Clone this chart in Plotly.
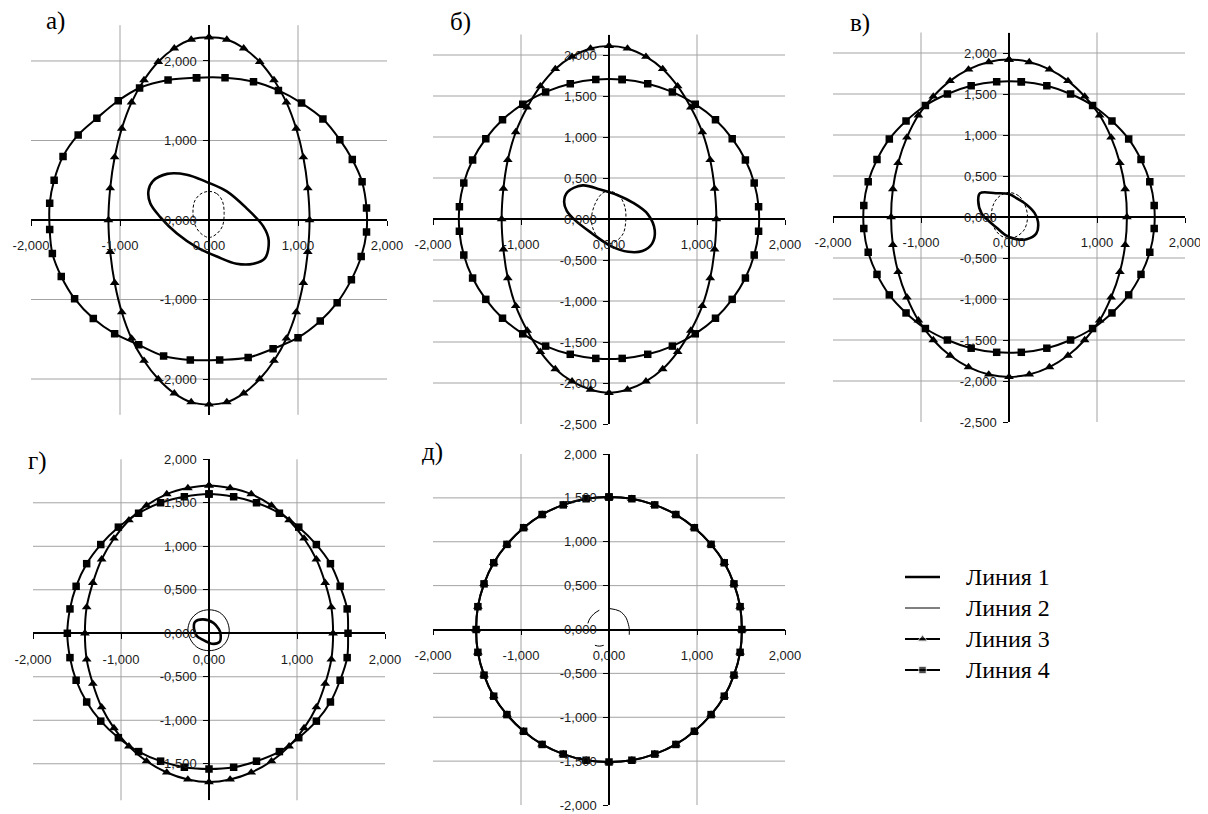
import plotly.graph_objects as go

# The page places the figure 8 px from the window's top-left corner.
OFF = 8
W, H = 1200, 806

# ---------------- tick values and labels ----------------
X_TICKS = [-2, -1, 0, 1, 2]
X_TICK_TEXT = ["-2,000", "-1,000", "0,000", "1,000", "2,000"]

A_Y_TICKS = [2, 1, 0, -1, -2]
A_Y_TICK_TEXT = ["2,000", "1,000", "0,000", "-1,000", "-2,000"]
B_Y_TICKS = [2, 1.5, 1, 0.5, 0, -0.5, -1, -1.5, -2, -2.5]
B_Y_TICK_TEXT = ["2,000", "1,500", "1,000", "0,500", "0,000", "-0,500", "-1,000", "-1,500", "-2,000", "-2,500"]
C_Y_TICKS = [2, 1.5, 1, 0.5, 0, -0.5, -1, -1.5, -2, -2.5]
C_Y_TICK_TEXT = ["2,000", "1,500", "1,000", "0,500", "0,000", "-0,500", "-1,000", "-1,500", "-2,000", "-2,500"]
D_Y_TICKS = [2, 1.5, 1, 0.5, 0, -0.5, -1, -1.5]
D_Y_TICK_TEXT = ["2,000", "1,500", "1,000", "0,500", "0,000", "-0,500", "-1,000", "-1,500"]
E_Y_TICKS = [2, 1.5, 1, 0.5, 0, -0.5, -1, -1.5, -2]
E_Y_TICK_TEXT = ["2,000", "1,500", "1,000", "0,500", "0,000", "-0,500", "-1,000", "-1,500", "-2,000"]

PANEL_LABELS = ["а)", "б)", "в)", "г)", "д)"]
SERIES_NAMES = ["Линия 1", "Линия 2", "Линия 3", "Линия 4"]

# ---------------- panel а ----------------
A1_X = [-0.68, -0.63, -0.47, -0.25, -0.03, 0.20, 0.42, 0.61, 0.67, 0.63, 0.50, 0.31, 0.09, -0.14, -0.36, -0.55, -0.66, -0.68]
A1_Y = [0.37, 0.49, 0.58, 0.57, 0.48, 0.36, 0.15, -0.08, -0.25, -0.48, -0.55, -0.55, -0.46, -0.34, -0.17, 0.04, 0.21, 0.37]
A2_X = [0.00, 0.09, 0.15, 0.17, 0.15, 0.08, 0.00, -0.08, -0.15, -0.18, -0.16, -0.09, 0.00]
A2_Y = [0.36, 0.33, 0.24, 0.08, -0.08, -0.18, -0.22, -0.18, -0.08, 0.08, 0.24, 0.33, 0.36]
A3_X = [0.00, 0.20, 0.39, 0.57, 0.73, 0.87, 0.98, 1.06, 1.11, 1.13, 1.11, 1.06, 0.98, 0.87, 0.73, 0.57, 0.39, 0.20,
        0.00, -0.20, -0.39, -0.57, -0.73, -0.87, -0.98, -1.06, -1.11, -1.13, -1.11, -1.06, -0.98, -0.87, -0.73, -0.57, -0.39, -0.20, 0.00]
A3_Y = [2.30, 2.27, 2.16, 1.99, 1.76, 1.48, 1.15, 0.79, 0.40, 0.00, -0.40, -0.79, -1.16, -1.49, -1.77, -2.00, -2.18, -2.29,
        -2.32, -2.29, -2.18, -2.00, -1.77, -1.49, -1.16, -0.79, -0.40, 0.00, 0.40, 0.79, 1.15, 1.48, 1.76, 1.99, 2.16, 2.27, 2.30]
A4_X = [-0.14, 0.18, 0.50, 0.78, 1.04, 1.28, 1.47, 1.61, 1.72, 1.77, 1.77, 1.71, 1.60, 1.44, 1.25, 1.00, 0.72, 0.44,
        0.12, -0.21, -0.51, -0.79, -1.06, -1.30, -1.51, -1.66, -1.76, -1.79, -1.79, -1.74, -1.64, -1.47, -1.26, -1.02, -0.78, -0.46, -0.14]
A4_Y = [1.79, 1.79, 1.74, 1.63, 1.47, 1.27, 1.01, 0.76, 0.48, 0.15, -0.15, -0.46, -0.75, -1.04, -1.27, -1.48, -1.62, -1.73,
        -1.76, -1.76, -1.71, -1.57, -1.43, -1.24, -0.99, -0.71, -0.42, -0.12, 0.21, 0.50, 0.80, 1.07, 1.28, 1.50, 1.66, 1.76, 1.79]

# ---------------- panel б ----------------
B1_X = [-0.51, -0.47, -0.30, -0.10, 0.10, 0.27, 0.44, 0.52, 0.49, 0.38, 0.22, 0.02, -0.20, -0.38, -0.48, -0.51]
B1_Y = [0.21, 0.33, 0.41, 0.36, 0.29, 0.20, 0.06, -0.14, -0.30, -0.39, -0.40, -0.33, -0.17, -0.02, 0.10, 0.21]
B2_X = [0.00, 0.11, 0.18, 0.19, 0.16, 0.08, 0.00, -0.09, -0.17, -0.20, -0.16, -0.08, 0.00]
B2_Y = [0.34, 0.29, 0.15, -0.03, -0.18, -0.27, -0.30, -0.26, -0.15, 0.00, 0.18, 0.31, 0.34]
B3_X = [0.00, 0.21, 0.42, 0.61, 0.78, 0.93, 1.06, 1.15, 1.20, 1.22, 1.20, 1.15, 1.06, 0.93, 0.78, 0.61, 0.42, 0.21,
        0.00, -0.21, -0.42, -0.61, -0.78, -0.93, -1.06, -1.15, -1.20, -1.22, -1.20, -1.15, -1.06, -0.93, -0.78, -0.61, -0.42, -0.21, 0.00]
B3_Y = [2.11, 2.08, 1.98, 1.83, 1.62, 1.36, 1.06, 0.72, 0.37, 0.00, -0.37, -0.72, -1.06, -1.36, -1.62, -1.83, -1.98, -2.08,
        -2.12, -2.08, -1.98, -1.83, -1.62, -1.36, -1.06, -0.72, -0.37, 0.00, 0.37, 0.72, 1.06, 1.36, 1.62, 1.83, 1.98, 2.08, 2.11]
B4_X = [0.15, 0.44, 0.72, 0.98, 1.21, 1.40, 1.55, 1.65, 1.70, 1.70, 1.65, 1.55, 1.40, 1.21, 0.98, 0.72, 0.44, 0.15,
        -0.15, -0.44, -0.72, -0.98, -1.21, -1.40, -1.55, -1.65, -1.70, -1.70, -1.65, -1.55, -1.40, -1.21, -0.98, -0.72, -0.44, -0.15, 0.15]
B4_Y = [1.70, 1.65, 1.55, 1.40, 1.21, 0.98, 0.72, 0.44, 0.15, -0.15, -0.44, -0.72, -0.98, -1.21, -1.40, -1.55, -1.65, -1.70,
        -1.70, -1.65, -1.55, -1.40, -1.21, -0.98, -0.72, -0.44, -0.15, 0.15, 0.44, 0.72, 0.98, 1.21, 1.40, 1.55, 1.65, 1.70, 1.70]

# ---------------- panel в ----------------
C1_X = [-0.33, -0.15, 0.00, 0.10, 0.20, 0.29, 0.33, 0.31, 0.20, 0.08, -0.04, -0.14, -0.24, -0.31, -0.35, -0.33]
C1_Y = [0.29, 0.29, 0.28, 0.22, 0.15, 0.05, -0.06, -0.20, -0.27, -0.27, -0.22, -0.13, -0.04, 0.04, 0.20, 0.29]
C2_X = [0.00, 0.12, 0.19, 0.21, 0.17, 0.08, 0.00, -0.09, -0.17, -0.20, -0.17, -0.10, 0.00]
C2_Y = [0.30, 0.25, 0.12, -0.02, -0.16, -0.24, -0.26, -0.23, -0.13, 0.03, 0.17, 0.26, 0.30]
C3_X = [0.00, 0.23, 0.46, 0.67, 0.86, 1.03, 1.16, 1.26, 1.32, 1.34, 1.32, 1.26, 1.16, 1.03, 0.86, 0.67, 0.46, 0.23,
        0.00, -0.23, -0.46, -0.67, -0.86, -1.03, -1.16, -1.26, -1.32, -1.34, -1.32, -1.26, -1.16, -1.03, -0.86, -0.67, -0.46, -0.23, 0.00]
C3_Y = [1.92, 1.89, 1.80, 1.66, 1.47, 1.24, 0.97, 0.66, 0.34, 0.00, -0.34, -0.67, -0.98, -1.26, -1.50, -1.69, -1.83, -1.92,
        -1.95, -1.92, -1.83, -1.69, -1.50, -1.26, -0.98, -0.67, -0.34, 0.00, 0.34, 0.66, 0.97, 1.24, 1.47, 1.66, 1.80, 1.89, 1.92]
C4_X = [0.14, 0.43, 0.70, 0.95, 1.17, 1.36, 1.50, 1.60, 1.65, 1.65, 1.60, 1.50, 1.36, 1.17, 0.95, 0.70, 0.43, 0.14,
        -0.14, -0.43, -0.70, -0.95, -1.17, -1.36, -1.50, -1.60, -1.65, -1.65, -1.60, -1.50, -1.36, -1.17, -0.95, -0.70, -0.43, -0.14, 0.14]
C4_Y = [1.65, 1.60, 1.50, 1.36, 1.17, 0.95, 0.70, 0.43, 0.14, -0.14, -0.43, -0.70, -0.95, -1.17, -1.36, -1.50, -1.60, -1.65,
        -1.65, -1.60, -1.50, -1.36, -1.17, -0.95, -0.70, -0.43, -0.14, 0.14, 0.43, 0.70, 0.95, 1.17, 1.36, 1.50, 1.60, 1.65, 1.65]

# ---------------- panel г ----------------
D1_X = [-0.16, -0.07, 0.05, 0.11, 0.13, 0.12, 0.03, -0.08, -0.14, -0.17, -0.16]
D1_Y = [0.13, 0.16, 0.12, 0.05, 0.00, -0.10, -0.12, -0.07, -0.03, 0.05, 0.13]
D2_X = [0.00, 0.12, 0.20, 0.23, 0.20, 0.12, 0.00, -0.12, -0.20, -0.24, -0.21, -0.12, 0.00]
D2_Y = [0.27, 0.24, 0.15, 0.03, -0.09, -0.17, -0.20, -0.17, -0.09, 0.03, 0.15, 0.24, 0.27]
D3_X = [0.00, 0.24, 0.48, 0.71, 0.91, 1.08, 1.22, 1.32, 1.39, 1.41, 1.39, 1.32, 1.22, 1.08, 0.91, 0.71, 0.48, 0.24,
        0.00, -0.24, -0.48, -0.71, -0.91, -1.08, -1.22, -1.32, -1.39, -1.41, -1.39, -1.32, -1.22, -1.08, -0.91, -0.71, -0.48, -0.24, 0.00]
D3_Y = [1.70, 1.67, 1.60, 1.47, 1.30, 1.09, 0.85, 0.58, 0.30, 0.00, -0.30, -0.58, -0.85, -1.09, -1.30, -1.47, -1.60, -1.68,
        -1.71, -1.68, -1.60, -1.47, -1.30, -1.09, -0.85, -0.58, -0.30, 0.00, 0.30, 0.58, 0.85, 1.09, 1.30, 1.47, 1.60, 1.67, 1.70]
D4_X = [0.00, 0.28, 0.54, 0.80, 1.02, 1.22, 1.38, 1.49, 1.57, 1.58, 1.57, 1.49, 1.38, 1.22, 1.02, 0.80, 0.54, 0.28,
        0.00, -0.28, -0.55, -0.80, -1.03, -1.23, -1.39, -1.51, -1.58, -1.61, -1.58, -1.51, -1.39, -1.23, -1.03, -0.80, -0.55, -0.28, 0.00]
D4_Y = [1.60, 1.57, 1.50, 1.38, 1.22, 1.02, 0.80, 0.54, 0.28, 0.00, -0.28, -0.54, -0.79, -1.01, -1.20, -1.36, -1.47, -1.54,
        -1.56, -1.54, -1.47, -1.36, -1.20, -1.01, -0.79, -0.54, -0.28, 0.00, 0.28, 0.54, 0.80, 1.02, 1.22, 1.38, 1.50, 1.57, 1.60]

# ---------------- panel д ----------------
E2_X = [-0.24, -0.22, -0.17, -0.11, None, 0.00, 0.12, 0.19, 0.22, 0.23, 0.23, None, -0.16, -0.11, -0.06]
E2_Y = [0.07, 0.12, 0.18, 0.22, None, 0.24, 0.21, 0.14, 0.06, 0.01, -0.06, None, -0.18, -0.19, -0.18]
E3_X = [0.00, 0.26, 0.52, 0.76, 0.97, 1.16, 1.31, 1.42, 1.49, 1.51, 1.49, 1.42, 1.31, 1.16, 0.97, 0.76, 0.52, 0.26,
        0.00, -0.26, -0.52, -0.76, -0.97, -1.16, -1.31, -1.42, -1.49, -1.51, -1.49, -1.42, -1.31, -1.16, -0.97, -0.76, -0.52, -0.26, 0.00]
E3_Y = [1.51, 1.49, 1.42, 1.31, 1.16, 0.97, 0.76, 0.52, 0.26, 0.00, -0.26, -0.52, -0.76, -0.97, -1.16, -1.31, -1.42, -1.49,
        -1.51, -1.49, -1.42, -1.31, -1.16, -0.97, -0.76, -0.52, -0.26, 0.00, 0.26, 0.52, 0.76, 0.97, 1.16, 1.31, 1.42, 1.49, 1.51]
E4_X = [0.00, 0.26, 0.52, 0.76, 0.97, 1.16, 1.31, 1.42, 1.49, 1.51, 1.49, 1.42, 1.31, 1.16, 0.97, 0.76, 0.52, 0.26,
        0.00, -0.26, -0.52, -0.76, -0.97, -1.16, -1.31, -1.42, -1.49, -1.51, -1.49, -1.42, -1.31, -1.16, -0.97, -0.76, -0.52, -0.26, 0.00]
E4_Y = [1.51, 1.49, 1.42, 1.31, 1.16, 0.97, 0.76, 0.52, 0.26, 0.00, -0.26, -0.52, -0.76, -0.97, -1.16, -1.31, -1.42, -1.49,
        -1.51, -1.49, -1.42, -1.31, -1.16, -0.97, -0.76, -0.52, -0.26, 0.00, 0.26, 0.52, 0.76, 0.97, 1.16, 1.31, 1.42, 1.49, 1.51]

# ---------------- layout (window pixel boxes: left, right, top, bottom) ----------------
PANELS = [
    dict(box=(31, 387, 25.2, 414.8), yr=(-2.45, 2.45), yt=A_Y_TICKS, ytt=A_Y_TICK_TEXT, lab=(55, 21),
         curves=[(A1_X, A1_Y), (A2_X, A2_Y), (A3_X, A3_Y), (A4_X, A4_Y)], dash2="3px,2px"),
    dict(box=(433, 785, 34.5, 424), yr=(-2.5, 2.25), yt=B_Y_TICKS, ytt=B_Y_TICK_TEXT, lab=(460, 22),
         curves=[(B1_X, B1_Y), (B2_X, B2_Y), (B3_X, B3_Y), (B4_X, B4_Y)], dash2="3px,2px"),
    dict(box=(833, 1185, 32.5, 422), yr=(-2.5, 2.25), yt=C_Y_TICKS, ytt=C_Y_TICK_TEXT, lab=(860, 23),
         curves=[(C1_X, C1_Y), (C2_X, C2_Y), (C3_X, C3_Y), (C4_X, C4_Y)], dash2="3px,2px"),
    dict(box=(33, 385, 459.3, 800.3), yr=(-1.92, 2.0), yt=D_Y_TICKS, ytt=D_Y_TICK_TEXT, lab=(37, 461),
         curves=[(D1_X, D1_Y), (D2_X, D2_Y), (D3_X, D3_Y), (D4_X, D4_Y)], dash2="solid"),
    dict(box=(433, 785, 454, 805), yr=(-2.0, 2.0), yt=E_Y_TICKS, ytt=E_Y_TICK_TEXT, lab=(432, 452),
         curves=[(None, None), (E2_X, E2_Y), (E3_X, E3_Y), (E4_X, E4_Y)], dash2="solid"),
]


def fx(px):
    return (px - OFF) / W


def fy(py):
    return 1 - (py - OFF) / H


TICK_FONT = dict(family="Liberation Sans, Arial", size=13, color="#1a1a1a")
GRID_COLOR = "#a3a3a3"

fig = go.Figure()
layout = dict(template="none", width=W, height=H, margin=dict(l=0, r=0, t=0, b=0, pad=0, autoexpand=False),
              paper_bgcolor="white", plot_bgcolor="white", showlegend=False)
shapes = []
annotations = []


def style(kind, dash2):
    if kind == 0:
        return dict(mode="lines", line=dict(color="black", width=2.6, shape="spline", smoothing=1))
    if kind == 1:
        return dict(mode="lines", line=dict(color="black", width=1, dash=dash2, shape="spline", smoothing=1))
    if kind == 2:
        return dict(mode="lines+markers", line=dict(color="black", width=2, shape="spline", smoothing=1),
                    marker=dict(symbol="triangle-up", size=8.5, color="black"))
    return dict(mode="lines+markers", line=dict(color="black", width=2, shape="spline", smoothing=1),
                marker=dict(symbol="square", size=7.5, color="black"))


for i, p in enumerate(PANELS, start=1):
    L, R, T, B = p["box"]
    ymin, ymax = p["yr"]
    sfx = "" if i == 1 else str(i)
    xa, ya = "x" + sfx, "y" + sfx
    zero_py = T + (ymax - 0) / (ymax - ymin) * (B - T)
    zero_px = L + (0 - (-2)) / 4 * (R - L)
    layout["xaxis" + sfx] = dict(
        domain=[fx(L), fx(R)], range=[-2, 2], anchor="free", position=fy(zero_py), automargin=False,
        showgrid=False, zeroline=False, showline=True, linecolor="black", linewidth=1.5,
        tickmode="array", tickvals=X_TICKS, ticktext=X_TICK_TEXT,
        ticks="outside", ticklen=5, tickwidth=1, tickcolor="black", tickfont=TICK_FONT,
        ticklabelstandoff=9, fixedrange=True, layer="above traces")
    layout["yaxis" + sfx] = dict(
        domain=[fy(B), fy(T)], range=[ymin, ymax], anchor="free", position=fx(zero_px), automargin=False,
        showgrid=False, zeroline=False, showline=True, linecolor="black", linewidth=1.5,
        tickmode="array", tickvals=p["yt"], ticktext=p["ytt"],
        ticks="outside", ticklen=5, tickwidth=1, tickcolor="black", tickfont=TICK_FONT,
        ticklabelstandoff=4, fixedrange=True, layer="above traces")
    # grid lines (inside the range only)
    for xv in X_TICKS:
        if -2 < xv < 2:
            shapes.append(dict(type="line", xref=xa, yref=ya + " domain", x0=xv, x1=xv, y0=0, y1=1,
                               line=dict(color=GRID_COLOR, width=1), layer="below"))
    for yv in p["yt"]:
        if ymin < yv < ymax and yv != 0:
            shapes.append(dict(type="line", xref=xa + " domain", yref=ya, x0=0, x1=1, y0=yv, y1=yv,
                               line=dict(color=GRID_COLOR, width=1), layer="below"))
    for k, (cx, cy) in enumerate(p["curves"]):
        if cx is None:
            continue
        fig.add_trace(go.Scatter(x=cx, y=cy, xaxis=xa, yaxis=ya, name=SERIES_NAMES[k],
                                 hoverinfo="skip", connectgaps=False, **style(k, p["dash2"])))
    lx, ly = p["lab"]
    annotations.append(dict(text=PANEL_LABELS[i - 1], xref="paper", yref="paper", x=fx(lx), y=fy(ly),
                            xanchor="center", yanchor="middle", showarrow=False,
                            font=dict(family="Liberation Serif, Times New Roman", size=25, color="black")))

# ---------------- legend (drawn on its own small axis) ----------------
LEG_ROWS = [1, 2, 3, 4]
layout["xaxis6"] = dict(domain=[fx(905), fx(940)], range=[0, 1], visible=False, fixedrange=True,
                        anchor="y6", automargin=False)
layout["yaxis6"] = dict(domain=[fy(701), fy(546)], range=[5, 0], visible=False, fixedrange=True,
                        anchor="x6", automargin=False)
for k, row in enumerate(LEG_ROWS):
    st = style(k, "solid")
    if "marker" in st:
        st["marker"] = dict(st["marker"], size=[0, st["marker"]["size"], 0])
    st["line"] = dict(st["line"], shape="linear")
    fig.add_trace(go.Scatter(x=[0, 0.5, 1], y=[row, row, row], xaxis="x6", yaxis="y6",
                             hoverinfo="skip", **st))
    annotations.append(dict(text=SERIES_NAMES[k], xref="paper", yref="y6", x=fx(964), y=row,
                            xanchor="left", yanchor="middle", showarrow=False,
                            font=dict(family="Liberation Serif, Times New Roman", size=24, color="black")))

layout["shapes"] = shapes
layout["annotations"] = annotations
fig.update_layout(**layout)
fig.write_html("out.html")
